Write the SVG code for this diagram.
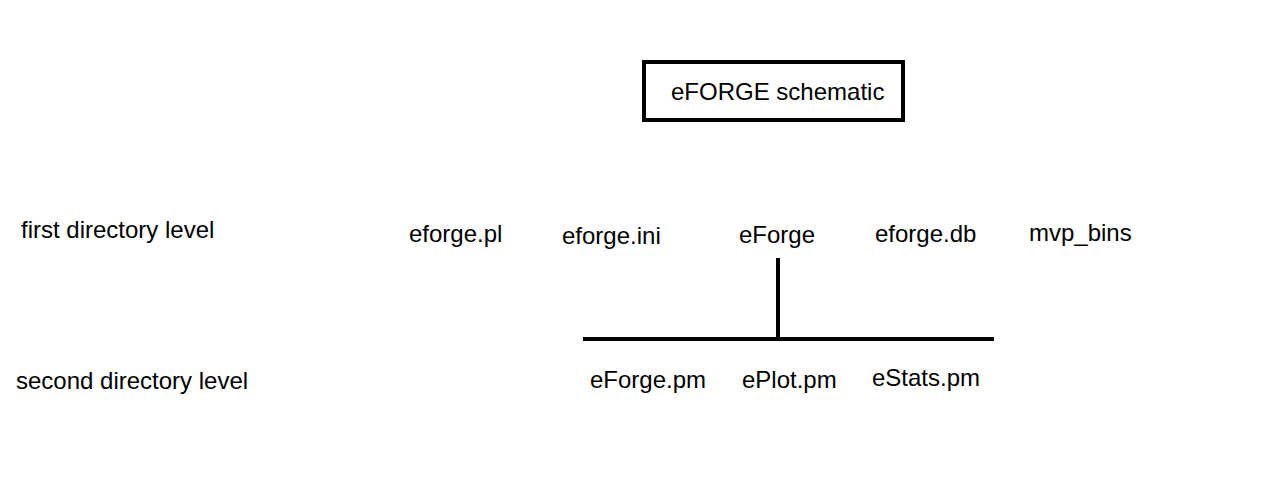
<svg xmlns="http://www.w3.org/2000/svg" width="1280" height="500" viewBox="0 0 1280 500">
<style>
text{font-family:"Liberation Sans",Arial,sans-serif;font-size:24px;fill:#000}
.ln{stroke:#000;stroke-width:4;fill:none}
</style>
<rect width="1280" height="500" fill="#fff"/>
<g id="title"><rect x="644" y="62" width="259" height="58" fill="#fff" stroke="#000" stroke-width="4"/><text x="671" y="100">eFORGE schematic</text></g>
<g id="level1"><text x="21" y="238">first directory level</text></g>
<g id="level2"><text x="16" y="389">second directory level</text></g>
<g id="eforge_pl"><text x="409" y="242">eforge.pl</text></g>
<g id="eforge_ini"><text x="562" y="244">eforge.ini</text></g>
<g id="eForge"><text x="739" y="243">eForge</text></g>
<g id="eforge_db"><text x="875" y="242">eforge.db</text></g>
<g id="mvp_bins"><text x="1029" y="241">mvp_bins</text></g>
<g id="eForge_pm"><text x="590" y="388">eForge.pm</text></g>
<g id="ePlot_pm"><text x="742" y="388">ePlot.pm</text></g>
<g id="eStats_pm"><text x="872" y="386">eStats.pm</text></g>
<g id="connectors"><line class="ln" x1="778" y1="258" x2="778" y2="339"/><line class="ln" x1="583" y1="339" x2="994" y2="339"/></g>
</svg>
